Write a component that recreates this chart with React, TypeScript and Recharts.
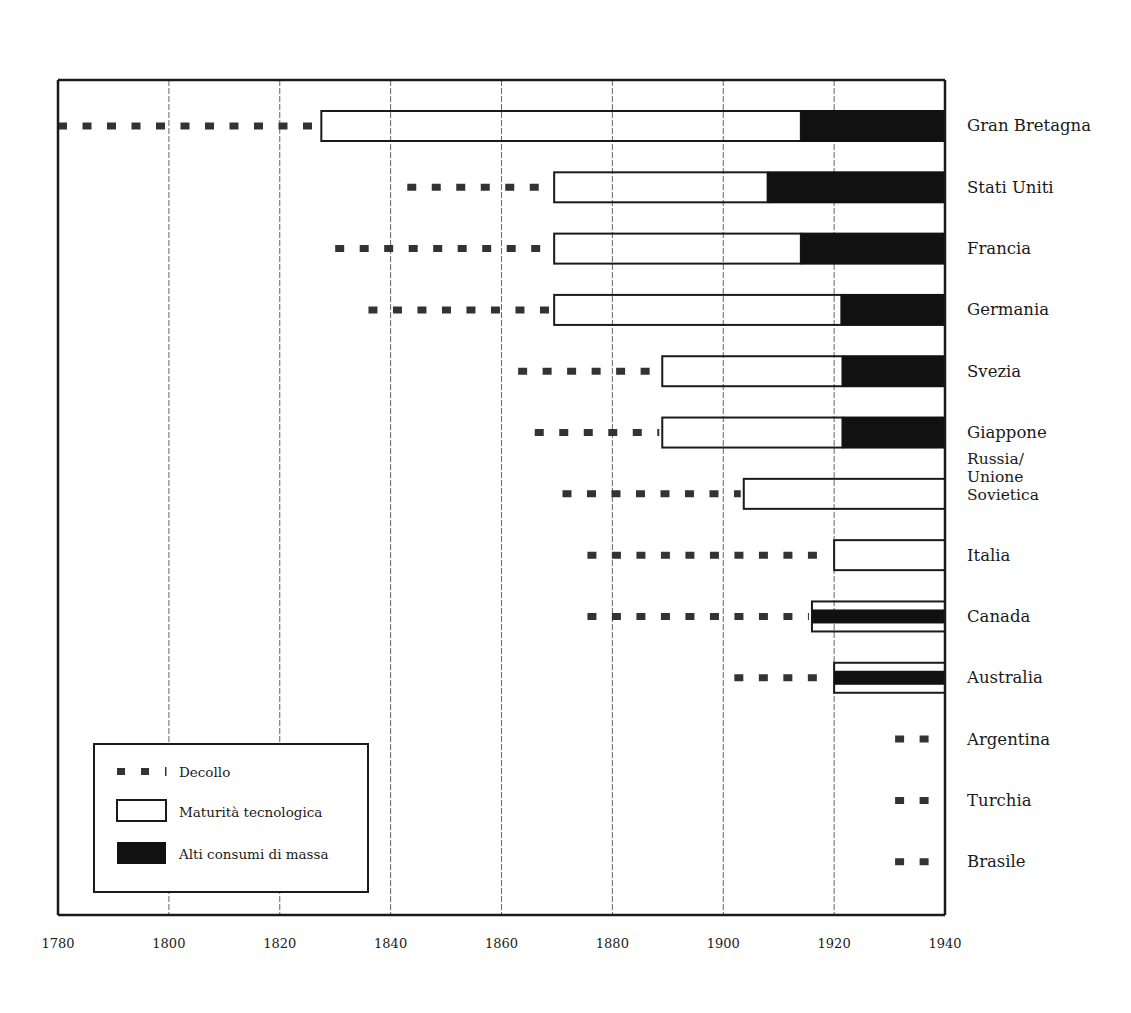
import React from "react";
import {
  BarChart,
  Bar,
  XAxis,
  YAxis,
  CartesianGrid,
  Legend,
} from "recharts";

// ---- data ----
const countries = [
  "Gran Bretagna",
  "Stati Uniti",
  "Francia",
  "Germania",
  "Svezia",
  "Giappone",
  "Russia/Unione Sovietica",
  "Italia",
  "Canada",
  "Australia",
  "Argentina",
  "Turchia",
  "Brasile",
];
// Decollo (take-off)
const takeoffFrom = [1780, 1843, 1830, 1836, 1863, 1866, 1871, 1875.5, 1875.5, 1902, 1931, 1931, 1931];
const takeoffTo = [1827.5, 1869.5, 1869.5, 1869.5, 1889, 1889, 1903.7, 1920, 1916, 1920, 1940, 1940, 1940];
// Maturità tecnologica
const maturityFrom = [1827.5, 1869.5, 1869.5, 1869.5, 1889, 1889, 1903.7, 1920, 1916, 1920, null, null, null];
const maturityTo = [1914, 1908, 1914, 1921.3, 1921.5, 1921.5, 1940, 1940, 1940, 1940, null, null, null];
// Alti consumi di massa
const massFrom = [1914, 1908, 1914, 1921.3, 1921.5, 1921.5, null, null, 1916, 1920, null, null, null];
const massTo = [1940, 1940, 1940, 1940, 1940, 1940, null, null, 1940, 1940, null, null, null];

const yearTicks = [1780, 1800, 1820, 1840, 1860, 1880, 1900, 1920, 1940];
const legendItems = ["Decollo", "Maturità tecnologica", "Alti consumi di massa"];

const data = countries.map((c, i) => ({
  country: c,
  takeoff: [takeoffFrom[i], takeoffTo[i]],
  maturity: maturityFrom[i] != null ? [maturityFrom[i], maturityTo[i]] : null,
  mass: massFrom[i] != null ? [massFrom[i], massTo[i]] : null,
}));

const FONT = "'DejaVu Serif', 'Liberation Serif', serif";
const INK = "#1a1a1a";
const BAR = 30;
const FRAME = { stroke: INK, strokeWidth: 2.5 };

const ok = (p: any) =>
  p && Number.isFinite(p.x) && Number.isFinite(p.width) && Math.abs(p.width) > 0.1;

const TakeoffShape = (p: any) => {
  if (!ok(p)) return null;
  const cy = p.y + p.height / 2;
  return (
    <line
      x1={p.x}
      x2={p.x + p.width - 3}
      y1={cy}
      y2={cy}
      stroke="#333"
      strokeWidth={7}
      strokeDasharray="9 15.5"
    />
  );
};

const MaturityShape = (p: any) => {
  if (!ok(p) || !p.payload || !p.payload.maturity) return null;
  return (
    <rect
      x={p.x}
      y={p.y}
      width={p.width}
      height={p.height}
      fill="none"
      stroke={INK}
      strokeWidth={2}
    />
  );
};

const MassShape = (p: any) => {
  if (!ok(p) || !p.payload || !p.payload.mass) return null;
  const m = p.payload.maturity;
  const overlaps = m && p.payload.mass[0] < m[1];
  if (overlaps) {
    const h = 14;
    return (
      <rect x={p.x} y={p.y + (p.height - h) / 2} width={p.width} height={h} fill="#111" />
    );
  }
  return <rect x={p.x} y={p.y - 1} width={p.width} height={p.height + 2} fill="#111" />;
};

const CountryTick = (props: any) => {
  const { x, y, payload } = props;
  const label: string = payload.value;
  if (label.startsWith("Russia/")) {
    const lines = ["Russia/", "Unione", "Sovietica"];
    return (
      <g>
        {lines.map((l, k) => (
          <text
            key={k}
            x={x + 22}
            y={y - 35 + k * 18}
            dy="0.35em"
            fontFamily={FONT}
            fontSize={15.5}
            fill={INK}
            textAnchor="start"
          >
            {l}
          </text>
        ))}
      </g>
    );
  }
  return (
    <text x={x + 22} y={y} dy="0.35em" fontFamily={FONT} fontSize={16.5} fill={INK} textAnchor="start">
      {label}
    </text>
  );
};

const YearTick = (props: any) => {
  const { x, y, payload } = props;
  return (
    <text x={x} y={y + 28} dy="0.35em" fontFamily={FONT} fontSize={13} fill={INK} textAnchor="middle">
      {payload.value}
    </text>
  );
};

const LegendContent = () => (
  <div
    style={{
      width: 272,
      height: 146,
      border: `2.5px solid ${INK}`,
      background: "#fff",
      position: "relative",
      boxSizing: "content-box",
    }}
  >
    <svg width={272} height={146} style={{ position: "absolute", left: 0, top: 0 }}>
      {/* Decollo */}
      <rect x={22} y={23} width={8} height={7} fill="#333" />
      <rect x={46} y={23} width={8} height={7} fill="#333" />
      <rect x={70} y={22} width={1.5} height={9} fill="#333" />
      <text x={84} y={27} dy="0.35em" fontFamily={FONT} fontSize={13.5} fill={INK}>
        {legendItems[0]}
      </text>
      {/* Maturità */}
      <rect x={22} y={55} width={49} height={21} fill="#fff" stroke={INK} strokeWidth={2} />
      <text x={84} y={67} dy="0.35em" fontFamily={FONT} fontSize={13.5} fill={INK}>
        {legendItems[1]}
      </text>
      {/* Alti consumi */}
      <rect x={22} y={97} width={49} height={22} fill="#111" />
      <text x={84} y={109} dy="0.35em" fontFamily={FONT} fontSize={13.5} fill={INK}>
        {legendItems[2]}
      </text>
    </svg>
  </div>
);

export default function App() {
  return (
    <div style={{ width: 1115, height: 990, background: "#fff" }}>
      <BarChart
        width={1115}
        height={990}
        data={data}
        layout="vertical"
        barGap={-BAR}
        margin={{ top: 71, right: 8, left: 49, bottom: 33 }}
      >
        <CartesianGrid
          horizontal={false}
          stroke="#666"
          strokeDasharray="6 2"
          strokeWidth={1}
        />
        <XAxis
          type="number"
          domain={[1780, 1940]}
          ticks={yearTicks}
          allowDataOverflow
          axisLine={FRAME}
          tickLine={false}
          tickSize={0}
          tickMargin={0}
          height={50}
          tick={<YearTick />}
          interval={0}
        />
        <XAxis
          xAxisId="top"
          orientation="top"
          type="number"
          domain={[1780, 1940]}
          allowDataOverflow
          axisLine={FRAME}
          tickLine={false}
          tick={false}
          height={1}
        />
        <YAxis
          type="category"
          dataKey="country"
          orientation="right"
          width={170}
          axisLine={FRAME}
          tickLine={false}
          tickSize={0}
          tickMargin={0}
          padding={{ top: 15, bottom: 23 }}
          tick={<CountryTick />}
          interval={0}
        />
        <YAxis
          yAxisId="left"
          type="category"
          dataKey="country"
          orientation="left"
          width={1}
          axisLine={FRAME}
          tickLine={false}
          tick={false}
        />
        <Legend
          layout="horizontal"
          verticalAlign="middle"
          align="center"
          wrapperStyle={{ left: 85, top: 735, width: 277, height: 151 }}
          content={<LegendContent />}
        />
        <Bar
          dataKey="takeoff"
          barSize={BAR}
          isAnimationActive={false}
          shape={<TakeoffShape />}
        />
        <Bar
          dataKey="maturity"
          barSize={BAR}
          isAnimationActive={false}
          shape={<MaturityShape />}
        />
        <Bar
          dataKey="mass"
          barSize={BAR}
          isAnimationActive={false}
          shape={<MassShape />}
        />
      </BarChart>
    </div>
  );
}
